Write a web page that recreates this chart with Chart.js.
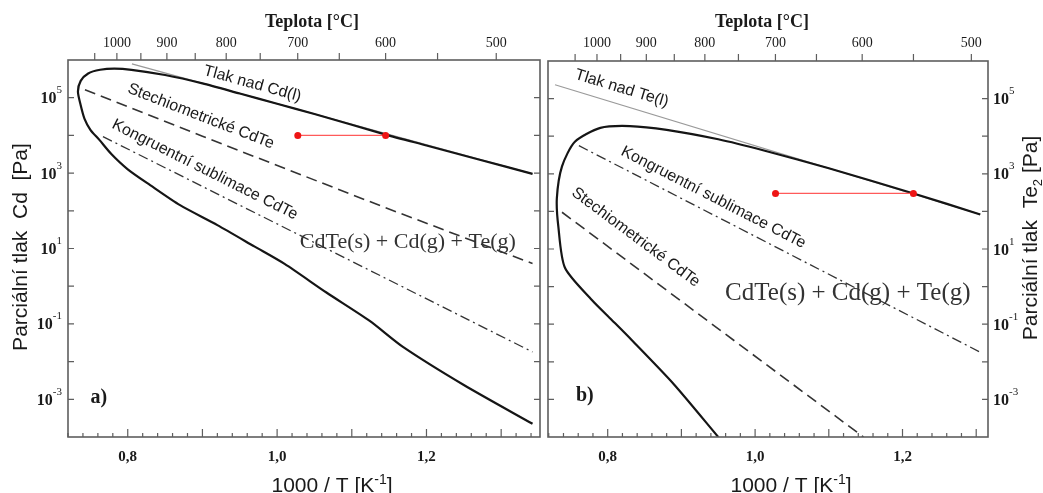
<!DOCTYPE html>
<html>
<head>
<meta charset="utf-8">
<script src="https://cdn.jsdelivr.net/npm/chart.js@4.4.1/dist/chart.umd.min.js"></script>
<style>
  html, body { margin: 0; padding: 0; background: #fff; }
  #wrap { position: relative; width: 1043px; height: 493px; overflow: hidden; }
  canvas { position: absolute; top: 0; }
  #chart_a { left: 0; }
  #chart_b { left: 544px; }
</style>
</head>
<body>
<div id="wrap">
  <canvas id="chart_a" width="544" height="493"></canvas>
  <canvas id="chart_b" width="499" height="493"></canvas>
</div>
<script>
// x = 1000/T [1/K], y = partial pressure [Pa]

// a) Cd
const cd_liquid = [[0.8056, 7.9e5], [1.342, 955]];
const cd_boundary = [
  [1.342, 955], [1.27, 2300], [1.2, 5400], [1.1453, 1.05e4], [1.05, 3.7e4],
  [1.0, 6.9e4], [0.95, 1.29e5], [0.90, 2.4e5], [0.85, 4.0e5], [0.805, 5.5e5],
  [0.782, 5.9e5], [0.763, 5.5e5], [0.747, 4.4e5], [0.737, 2.8e5], [0.7333, 1.45e5],
  [0.737, 6.3e4], [0.742, 2.8e4], [0.750, 1.41e4], [0.762, 7.6e3], [0.778, 3.2e3],
  [0.800, 1.26e3], [0.830, 480], [0.870, 141], [0.920, 41.7], [0.970, 11.2],
  [1.010, 3.9], [1.066, 0.68], [1.124, 0.12], [1.168, 0.025], [1.250, 2.4e-3],
  [1.342, 2.24e-4],
];
const cd_stoichiometric = [[0.7427, 1.62e5], [0.90, 9.5e3], [1.14, 132], [1.342, 4.0]];
const cd_congruent = [[0.7668, 9.3e3], [1.342, 0.018]];
const cd_isobar = [[1.0277, 1.0e4], [1.1453, 1.0e4]];

// b) Te2
const te_liquid = [[0.7285, 2.34e5], [1.3055, 83]];
const te_boundary = [
  [1.3055, 83], [1.215, 300], [1.10, 1400], [1.012, 4170], [0.95, 8300],
  [0.88, 1.48e4], [0.83, 1.86e4], [0.79, 1.66e4], [0.7555, 7.1e3], [0.738, 1.58e3],
  [0.731, 224], [0.733, 40], [0.742, 3.16], [0.7785, 0.44], [0.8055, 0.13],
  [0.8325, 0.038], [0.89, 2.5e-3], [0.95, 1.0e-4],
];
const te_stoichiometric = [[0.738, 95], [1.147, 1.0e-4]];
const te_congruent = [[0.7609, 5.6e3], [1.3055, 0.018]];
const te_isobar = [[1.0277, 300], [1.2148, 300]];

// axis ticks
const temp_ticks_c = [1050, 1000, 950, 900, 850, 800, 750, 700, 650, 600, 550, 500];
const temp_labels_c = [1000, 900, 800, 700, 600, 500];
const x_label_values = [0.8, 1.0, 1.2];
const x_label_texts = ["0,8", "1,0", "1,2"];
const y_tick_exponents = [-3, -2, -1, 0, 1, 2, 3, 4, 5];
const y_label_exponents = [-3, -1, 1, 3, 5];

const ink = "#1a1a1a";
const frame_color = "#5e5e5e";
const serif = "'Liberation Serif', 'DejaVu Serif', serif";
const sans = "'Liberation Sans', Arial, sans-serif";

function solid(data) {
  return { data: data, borderColor: "#151515", borderWidth: 2.2, pointRadius: 0, tension: 0.25, order: 1 };
}
function dashed(data) {
  return { data: data, borderColor: "#333", borderWidth: 1.6, borderDash: [11, 6], pointRadius: 0, order: 2 };
}
function dashdot(data) {
  return { data: data, borderColor: "#333", borderWidth: 1.3, borderDash: [10, 4, 2, 4], pointRadius: 0, order: 2 };
}
function thin(data) {
  return { data: data, borderColor: "#9a9a9a", borderWidth: 1.2, pointRadius: 0, order: 5 };
}
function isobar(data) {
  return {
    data: data, borderColor: "#ff5a5a", borderWidth: 1.2, pointRadius: 3.5,
    pointBackgroundColor: "#ee1515", pointBorderWidth: 0, order: 0,
  };
}

// text made of runs (for super/subscripts), baseline alphabetic
function draw_runs(ctx, runs, x, y, align) {
  let total = 0;
  runs.forEach(function (r) {
    ctx.font = r.font;
    r.w = ctx.measureText(r.text).width;
    total += r.w;
  });
  let cx = align === "center" ? x - total / 2 : align === "right" ? x - total : x;
  ctx.textAlign = "left";
  ctx.textBaseline = "alphabetic";
  runs.forEach(function (r) {
    ctx.font = r.font;
    ctx.fillText(r.text, cx, y + (r.dy || 0));
    cx += r.w;
  });
}

function draw_axes(chart, cfg) {
  const ctx = chart.ctx;
  const a = chart.chartArea;
  const xs = chart.scales.x;
  const ys = chart.scales.y;
  ctx.save();
  ctx.strokeStyle = frame_color;
  ctx.lineWidth = 1.6;
  ctx.strokeRect(a.left, a.top, a.right - a.left, a.bottom - a.top);

  ctx.lineWidth = 1.2;
  ctx.beginPath();
  // bottom: every 0.02, longer every 0.1 (pointing in)
  for (let i = Math.ceil(xs.min * 50); i <= Math.floor(xs.max * 50); i++) {
    const px = xs.getPixelForValue(i / 50);
    const len = i % 5 === 0 ? 8 : 4;
    ctx.moveTo(px, a.bottom);
    ctx.lineTo(px, a.bottom - len);
  }
  // top: temperature every 50 °C (pointing out)
  temp_ticks_c.forEach(function (c) {
    const px = xs.getPixelForValue(1000 / (c + 273.15));
    ctx.moveTo(px, a.top);
    ctx.lineTo(px, a.top - 7);
  });
  // decades on both sides
  y_tick_exponents.forEach(function (e) {
    const py = ys.getPixelForValue(Math.pow(10, e));
    ctx.moveTo(a.left, py);
    ctx.lineTo(a.left + 6, py);
    ctx.moveTo(a.right, py);
    ctx.lineTo(a.right - 6, py);
  });
  ctx.stroke();

  ctx.fillStyle = ink;
  ctx.textAlign = "center";
  ctx.textBaseline = "middle";
  ctx.font = "bold 15px " + serif;
  x_label_values.forEach(function (v, i) {
    ctx.fillText(x_label_texts[i], xs.getPixelForValue(v), 457);
  });
  ctx.font = "14px " + serif;
  temp_labels_c.forEach(function (c) {
    ctx.fillText(String(c), xs.getPixelForValue(1000 / (c + 273.15)), 43);
  });
  ctx.font = "bold 18px " + serif;
  ctx.fillText("Teplota [\u00b0C]", cfg.temp_title_x, 22);

  y_label_exponents.forEach(function (e) {
    const py = ys.getPixelForValue(Math.pow(10, e));
    draw_runs(ctx, [
      { text: "10", font: "bold 16px " + serif },
      { text: String(e), font: "11px " + serif, dy: -10 },
    ], cfg.decade_x, py + 5.5, cfg.decade_align);
  });

  // axis titles
  draw_runs(ctx, [
    { text: "1000 / T [K", font: "21px " + sans },
    { text: "-1", font: "14px " + sans, dy: -8 },
    { text: "]", font: "21px " + sans },
  ], cfg.x_title_x, 492, "center");

  ctx.save();
  ctx.translate(cfg.y_title_x, cfg.y_title_y);
  ctx.rotate(-Math.PI / 2);
  draw_runs(ctx, cfg.y_title_runs, 0, 7, "center");
  ctx.restore();
  ctx.restore();
}

function draw_labels(chart, cfg) {
  const ctx = chart.ctx;
  const xs = chart.scales.x;
  const ys = chart.scales.y;
  cfg.labels.forEach(function (l) {
    let ang = 0;
    if (l.along) {
      const p0 = l.along[0];
      const p1 = l.along[l.along.length - 1];
      ang = Math.atan2(
        ys.getPixelForValue(p1[1]) - ys.getPixelForValue(p0[1]),
        xs.getPixelForValue(p1[0]) - xs.getPixelForValue(p0[0])
      );
    }
    ctx.save();
    ctx.translate(xs.getPixelForValue(l.at[0]), ys.getPixelForValue(l.at[1]));
    ctx.rotate(ang);
    ctx.font = l.font;
    ctx.fillStyle = l.color || ink;
    ctx.textAlign = "center";
    ctx.textBaseline = "middle";
    ctx.fillText(l.text, 0, 0);
    ctx.restore();
  });
}

function make_panel(canvas_id, datasets, pad, xmin, xmax, cfg) {
  return new Chart(document.getElementById(canvas_id), {
    type: "line",
    data: { datasets: datasets },
    options: {
      responsive: false,
      animation: false,
      devicePixelRatio: 1,
      events: [],
      layout: { padding: pad },
      plugins: { legend: { display: false }, tooltip: { enabled: false } },
      scales: {
        x: { type: "linear", min: xmin, max: xmax, display: false },
        y: { type: "logarithmic", min: 1e-4, max: 1e6, display: false },
      },
    },
    plugins: [{
      id: "decor_" + canvas_id,
      afterDatasetsDraw: function (chart) { draw_labels(chart, cfg); },
      afterDraw: function (chart) { draw_axes(chart, cfg); },
    }],
  });
}

const curve_font = "16px " + sans;

make_panel("chart_a",
  [thin(cd_liquid), solid(cd_boundary), dashed(cd_stoichiometric), dashdot(cd_congruent), isobar(cd_isobar)],
  { left: 68, right: 2, top: 60, bottom: 56 }, 0.72, 1.352,
  {
    temp_title_x: 312,
    decade_x: 62, decade_align: "right",
    x_title_x: 332,
    y_title_x: 20, y_title_y: 247,
    y_title_runs: [{ text: "Parci\u00e1ln\u00ed tlak  Cd  [Pa]", font: "21px " + sans }],
    labels: [
      { text: "Tlak nad Cd(l)", at: [0.967, 2.34e5], along: cd_liquid, font: curve_font },
      { text: "Stechiometrick\u00e9 CdTe", at: [0.8978, 3.2e4], along: cd_stoichiometric, font: curve_font },
      { text: "Kongruentn\u00ed sublimace CdTe", at: [0.9032, 1230], along: cd_congruent, font: curve_font },
      { text: "CdTe(s) + Cd(g) + Te(g)", at: [1.175, 14.3], font: "22px " + serif, color: "#333" },
      { text: "a)", at: [0.7614, 1.1e-3], font: "bold 20px " + serif },
    ],
  });

make_panel("chart_b",
  [thin(te_liquid), solid(te_boundary), dashed(te_stoichiometric), dashdot(te_congruent), isobar(te_isobar)],
  { left: 2, right: 55, top: 61, bottom: 56 }, 0.719, 1.316,
  {
    temp_title_x: 218,
    decade_x: 449, decade_align: "left",
    x_title_x: 247,
    y_title_x: 486, y_title_y: 238,
    y_title_runs: [
      { text: "Parci\u00e1ln\u00ed tlak  Te", font: "21px " + sans },
      { text: "2", font: "13px " + sans, dy: 5 },
      { text: " [Pa]", font: "21px " + sans },
    ],
    labels: [
      { text: "Tlak nad Te(l)", at: [0.819, 1.86e5], along: te_liquid, font: curve_font },
      { text: "Kongruentn\u00ed sublimace CdTe", at: [0.9433, 234], along: te_congruent, font: curve_font },
      { text: "Stechiometrick\u00e9 CdTe", at: [0.838, 20.4], along: te_stoichiometric, font: curve_font },
      { text: "CdTe(s) + Cd(g) + Te(g)", at: [1.1258, 0.67], font: "25px " + serif, color: "#333" },
      { text: "b)", at: [0.769, 1.26e-3], font: "bold 20px " + serif },
    ],
  });
</script>
</body>
</html>
